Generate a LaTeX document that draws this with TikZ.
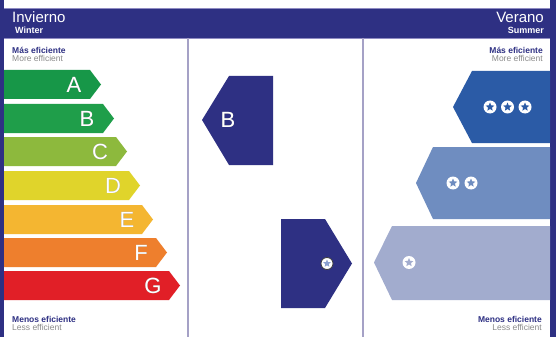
\documentclass[tikz,border=0pt]{standalone}
\usepackage{fontspec}
\setmainfont{Liberation Sans}
\usepackage[outline]{contour}
\usetikzlibrary{shapes.geometric}
\contourlength{0.5pt}
\definecolor{bandblue}{HTML}{2E3083}
\definecolor{edgeblue}{HTML}{8F8BC2}
\definecolor{ruleblue}{HTML}{A5A1C6}
\definecolor{greyt}{HTML}{8A8A8A}
\definecolor{ratea}{HTML}{179748}
\definecolor{rateb}{HTML}{1F9E4A}
\definecolor{ratec}{HTML}{8DB93D}
\definecolor{rated}{HTML}{E0D42B}
\definecolor{ratee}{HTML}{F4B631}
\definecolor{ratef}{HTML}{EE7F2D}
\definecolor{rateg}{HTML}{E11F27}
\definecolor{sumone}{HTML}{2B5BA6}
\definecolor{sumtwo}{HTML}{6F8DC0}
\definecolor{sumthree}{HTML}{A2ACCE}
\definecolor{starlight}{HTML}{8AA0D0}

\begin{document}
\begin{tikzpicture}[x=1pt,y=-1pt]

    \tikzset{
      letter/.style={
        text=white,
        inner sep=0pt,
        font=\fontsize{22}{22}\selectfont,
      },
      headline/.style={
        text=white,
        inner sep=0pt,
        font=\fontsize{15}{15}\selectfont,
      },
      subline/.style={
        text=white,
        inner sep=0pt,
        font=\fontsize{9}{9}\selectfont\bfseries,
      },
      effblue/.style={
        text=bandblue,
        inner sep=0pt,
        font=\fontsize{8.5}{8.5}\selectfont\bfseries,
      },
      effgrey/.style={
        text=greyt,
        inner sep=0pt,
        font=\fontsize{8.5}{8.5}\selectfont,
      },
      ring/.style={
        circle,
        fill=white,
        inner sep=0pt,
        minimum size=13pt,
      },
      starin/.style={
        star,
        star points=5,
        star point ratio=2.2,
        inner sep=0pt,
        minimum size=9pt,
      },
    }
    \useasboundingbox (0,0) rectangle (560,337);

	 % frame and header band
	 \fill[white] (0,0) rectangle (560,337);
	 \fill[bandblue] (0,8) rectangle (556,38);
	 \draw[edgeblue,line width=0.8pt] (4,8) -- (550,8);
	 \draw[edgeblue,line width=0.8pt] (4,38) -- (550,38);
	 \fill[bandblue] (0,0) rectangle (4,337);
	 \fill[bandblue] (550,0) rectangle (556,337);
	 \draw[ruleblue,line width=1.5pt] (188,38) -- (188,337);
	 \draw[ruleblue,line width=1.5pt] (363,38) -- (363,337);

	 \node[headline,anchor=base west] (winter) at (12,23) {Invierno};
	 \node[subline,anchor=base west] (wintere) at (15,34) {Winter};
	 \node[headline,anchor=base east] (summer) at (544,23) {Verano};
	 \node[subline,anchor=base east] (summere) at (544,34) {Summer};

	 \node[effblue,anchor=base west] (lmore) at (12,53.5) {Más eficiente};
	 \node[effgrey,anchor=base west] (lmoree) at (12,62) {More efficient};
	 \node[effblue,anchor=base west] (lless) at (12,322) {Menos eficiente};
	 \node[effgrey,anchor=base west] (llesse) at (12,330) {Less efficient};
	 \node[effblue,anchor=base east] (rmore) at (543,53.5) {Más eficiente};
	 \node[effgrey,anchor=base east] (rmoree) at (543,62) {More efficient};
	 \node[effblue,anchor=base east] (rless) at (542,322) {Menos eficiente};
	 \node[effgrey,anchor=base east] (rlesse) at (542,330) {Less efficient};

	 % winter scale
	 \fill[ratea] (4,70) -- (90,70) -- (101,84.5) -- (90,99) -- (4,99) -- cycle;
	 \node[letter] (ka) at (74,84.5) {\contour{gray}{A}};

	 \fill[rateb] (4,104) -- (103,104) -- (114,118.5) -- (103,133) -- (4,133) -- cycle;
	 \node[letter] (kb) at (87,118.5) {\contour{gray}{B}};

	 \fill[ratec] (4,137) -- (116,137) -- (127,151.5) -- (116,166) -- (4,166) -- cycle;
	 \node[letter] (kc) at (100,151.5) {\contour{gray}{C}};

	 \fill[rated] (4,171) -- (129,171) -- (140,185.5) -- (129,200) -- (4,200) -- cycle;
	 \node[letter] (kd) at (113,185.5) {\contour{gray}{D}};

	 \fill[ratee] (4,205) -- (142,205) -- (153,219.5) -- (142,234) -- (4,234) -- cycle;
	 \node[letter] (ke) at (127,219.5) {\contour{gray}{E}};

	 \fill[ratef] (4,238) -- (156,238) -- (167,252.5) -- (156,267) -- (4,267) -- cycle;
	 \node[letter] (kf) at (141,252.5) {\contour{gray}{F}};

	 \fill[rateg] (4,271) -- (169,271) -- (180,285.5) -- (169,300) -- (4,300) -- cycle;
	 \node[letter] (kg) at (153,285.5) {\contour{gray}{G}};

	 % ratings of this unit
	 \fill[bandblue] (202,120) -- (229,76) -- (273,76) -- (273,165) -- (229,165) -- cycle;
	 \node[letter] (pickw) at (228,120) {\contour{gray}{B}};

	 \fill[bandblue] (281,219) -- (325,219) -- (352,263.5) -- (325,308) -- (281,308) -- cycle;
	 \node[ring,draw=black!75,line width=0.8pt,minimum size=12pt] (picks) at (327,263.5) {};
	 \node[starin,fill=starlight,minimum size=8pt] (picksx) at (picks) {};

	 % summer scale
	 \fill[sumone] (453,107) -- (472,71) -- (550,71) -- (550,143) -- (472,143) -- cycle;
	 \node[ring] (so1) at (490,107) {};
	 \node[starin,fill=sumone] (so1x) at (so1) {};
	 \node[ring] (so2) at (507.5,107) {};
	 \node[starin,fill=sumone] (so2x) at (so2) {};
	 \node[ring] (so3) at (525,107) {};
	 \node[starin,fill=sumone] (so3x) at (so3) {};

	 \fill[sumtwo] (416,183) -- (433,147) -- (550,147) -- (550,219) -- (433,219) -- cycle;
	 \node[ring] (st1) at (453,183) {};
	 \node[starin,fill=sumtwo] (st1x) at (st1) {};
	 \node[ring] (st2) at (471,183) {};
	 \node[starin,fill=sumtwo] (st2x) at (st2) {};

	 \fill[sumthree] (374,262.5) -- (392,226) -- (550,226) -- (550,300) -- (392,300) -- cycle;
	 \node[ring] (sh1) at (409,262.5) {};
	 \node[starin,fill=sumthree] (sh1x) at (sh1) {};

\end{tikzpicture}
\end{document}
